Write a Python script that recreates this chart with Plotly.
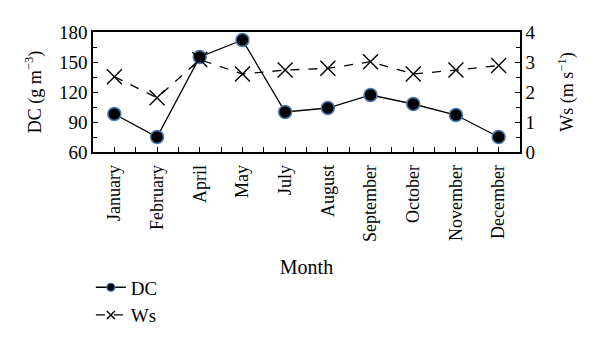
import plotly.graph_objects as go

months = ["January", "February", "April", "May", "July", "August",
          "September", "October", "November", "December"]
dc = [98, 75, 155, 172, 100, 104, 117, 108, 97, 75]
ws = [2.51, 1.81, 3.08, 2.6, 2.73, 2.79, 3.01, 2.6, 2.73, 2.88]

xpos = list(range(len(months)))
FONT = "Liberation Serif"
DC_MARKER_LINE = "#4a7db5"

fig = go.Figure()
fig.add_trace(go.Scatter(
    x=xpos, y=dc, name="DC", mode="lines+markers", showlegend=False,
    line=dict(color="black", width=1.3),
    marker=dict(symbol="circle", size=13, color="black",
                line=dict(color=DC_MARKER_LINE, width=1.5)),
    yaxis="y"))
fig.add_trace(go.Scatter(
    x=xpos, y=ws, name="Ws", mode="lines+markers", showlegend=False,
    line=dict(color="black", width=1.3, dash="dash"),
    marker=dict(symbol="x-thin-open", size=15, color="black",
                line=dict(color="black", width=1.4)),
    yaxis="y2"))
# legend entries (smaller symbols, as in the reference legend)
fig.add_trace(go.Scatter(
    x=[None], y=[None], name="DC", mode="lines+markers",
    line=dict(color="black", width=1.3),
    marker=dict(symbol="circle", size=8, color="black",
                line=dict(color=DC_MARKER_LINE, width=1.2)),
    yaxis="y"))
fig.add_trace(go.Scatter(
    x=[None], y=[None], name="Ws", mode="lines+markers",
    line=dict(color="black", width=1.3, dash="dash"),
    marker=dict(symbol="x-thin-open", size=8, color="black",
                line=dict(color="black", width=1.5)),
    yaxis="y2"))

fig.update_layout(
    width=600, height=346,
    margin=dict(l=93, r=80, t=32, b=194, autoexpand=False),
    paper_bgcolor="white", plot_bgcolor="white",
    font=dict(family=FONT, size=17, color="black"),
    showlegend=True,
    legend=dict(x=-0.005, y=-0.97,
                xanchor="left", yanchor="top",
                font=dict(family=FONT, size=19), tracegroupgap=0,
                bgcolor="rgba(0,0,0,0)"),
    xaxis=dict(
        range=[-0.5, len(months) - 0.5],
        tickvals=xpos, ticktext=months, tickangle=-90,
        ticks="inside", ticklen=5, tickcolor="black",
        ticklabelstandoff=4,
        minor=dict(tickvals=[i + 0.5 for i in xpos[:-1]], ticks="inside",
                   ticklen=5, tickcolor="black"),
        showline=True, linecolor="black", linewidth=1.5, mirror=True,
        showgrid=False, zeroline=False,
        title=dict(text="Month", standoff=19, font=dict(size=20)),
        tickfont=dict(size=18)),
    yaxis=dict(
        range=[60, 180], tickvals=[60, 90, 120, 150, 180],
        ticks="inside", ticklen=5, tickcolor="black",
        minor=dict(tickvals=[75, 105, 135, 165], ticks="inside",
                   ticklen=4, tickcolor="black"),
        showline=True, linecolor="black", linewidth=1.5,
        showgrid=False, zeroline=False,
        title=dict(text="DC (g m<sup>−3</sup>)", standoff=13, font=dict(size=18)),
        tickfont=dict(size=19)),
    yaxis2=dict(
        overlaying="y", side="right",
        range=[0, 4], tickvals=[0, 1, 2, 3, 4],
        ticks="inside", ticklen=5, tickcolor="black",
        minor=dict(tickvals=[0.5, 1.5, 2.5, 3.5], ticks="inside",
                   ticklen=4, tickcolor="black"),
        showline=True, linecolor="black", linewidth=1.5,
        showgrid=False, zeroline=False,
        title=dict(text="Ws (m s<sup>−1</sup>)", standoff=26, font=dict(size=18)),
        tickfont=dict(size=19)),
)

fig.write_html("out.html")
